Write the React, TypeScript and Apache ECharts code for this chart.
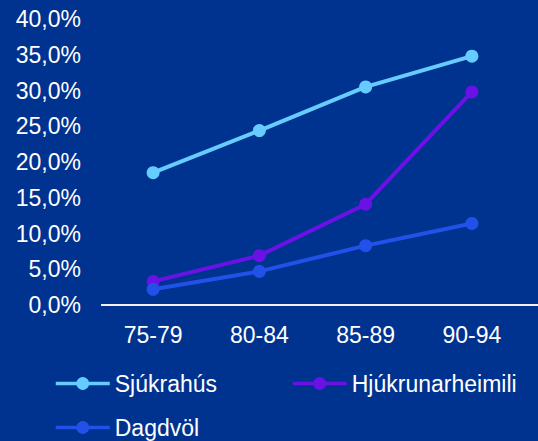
import React, { useEffect, useRef } from "react";
import * as echarts from "echarts";

const categories = ["75-79", "80-84", "85-89", "90-94"];
const seriesNames = ["Sjúkrahús", "Hjúkrunarheimili", "Dagdvöl"];
const sjukrahus = [18.5, 24.4, 30.5, 34.8];
const hjukrunarheimili = [3.3, 6.9, 14.1, 29.8];
const dagdvol = [2.2, 4.7, 8.3, 11.4];
const seriesColors = ["#66CCFF", "#6A12E6", "#2251EA"];

const BG = "#00338F";
const FONT = "'Liberation Sans', Arial, sans-serif";

export default function App() {
  const ref = useRef<HTMLDivElement>(null);
  useEffect(() => {
    if (!ref.current) return;
    const chart = echarts.init(ref.current, null, { renderer: "svg" });
    const values = [sjukrahus, hjukrunarheimili, dagdvol];
    const legendBase = {
      orient: "horizontal",
      itemWidth: 54,
      itemHeight: 16,
      itemGap: 0,
      padding: 0,
      lineStyle: { width: 3.5 },
      textStyle: { color: "#FFFFFF", fontSize: 23, fontFamily: FONT },
      selectedMode: false,
    };
    chart.setOption({
      animation: false,
      backgroundColor: BG,
      textStyle: { fontFamily: FONT },
      grid: { left: 100, right: 13, top: 19, bottom: 136, containLabel: false },
      legend: [
        { ...legendBase, left: 54, top: 372, data: [seriesNames[0]] },
        { ...legendBase, left: 291, top: 372, data: [seriesNames[1]] },
        { ...legendBase, left: 54, top: 416, data: [seriesNames[2]] },
      ],
      xAxis: {
        type: "category",
        data: categories,
        boundaryGap: true,
        axisLine: { show: false },
        axisTick: { show: false },
        axisLabel: { color: "#FFFFFF", fontSize: 23, fontFamily: FONT, margin: 18 },
      },
      yAxis: {
        type: "value",
        min: 0,
        max: 40,
        interval: 5,
        splitLine: { show: false },
        axisLine: { show: false },
        axisTick: { show: false },
        axisLabel: {
          color: "#FFFFFF",
          fontSize: 23,
          fontFamily: FONT,
          margin: 19,
          formatter: (v: number) => v.toFixed(1).replace(".", ",") + "%",
        },
      },
      graphic: [
        {
          type: "line",
          shape: { x1: 101, y1: 305, x2: 538, y2: 305 },
          style: { stroke: "#F2F2F2", lineWidth: 2 },
          silent: true,
        },
      ],
      series: seriesNames.map((name, i) => ({
        name,
        type: "line",
        data: values[i],
        symbol: "circle",
        symbolSize: 13,
        color: seriesColors[i],
        lineStyle: { width: 4, color: seriesColors[i] },
        itemStyle: { color: seriesColors[i] },
      })),
    });
    return () => chart.dispose();
  }, []);
  return <div ref={ref} style={{ width: 538, height: 441, position: "absolute", left: 0, top: 0 }} />;
}
